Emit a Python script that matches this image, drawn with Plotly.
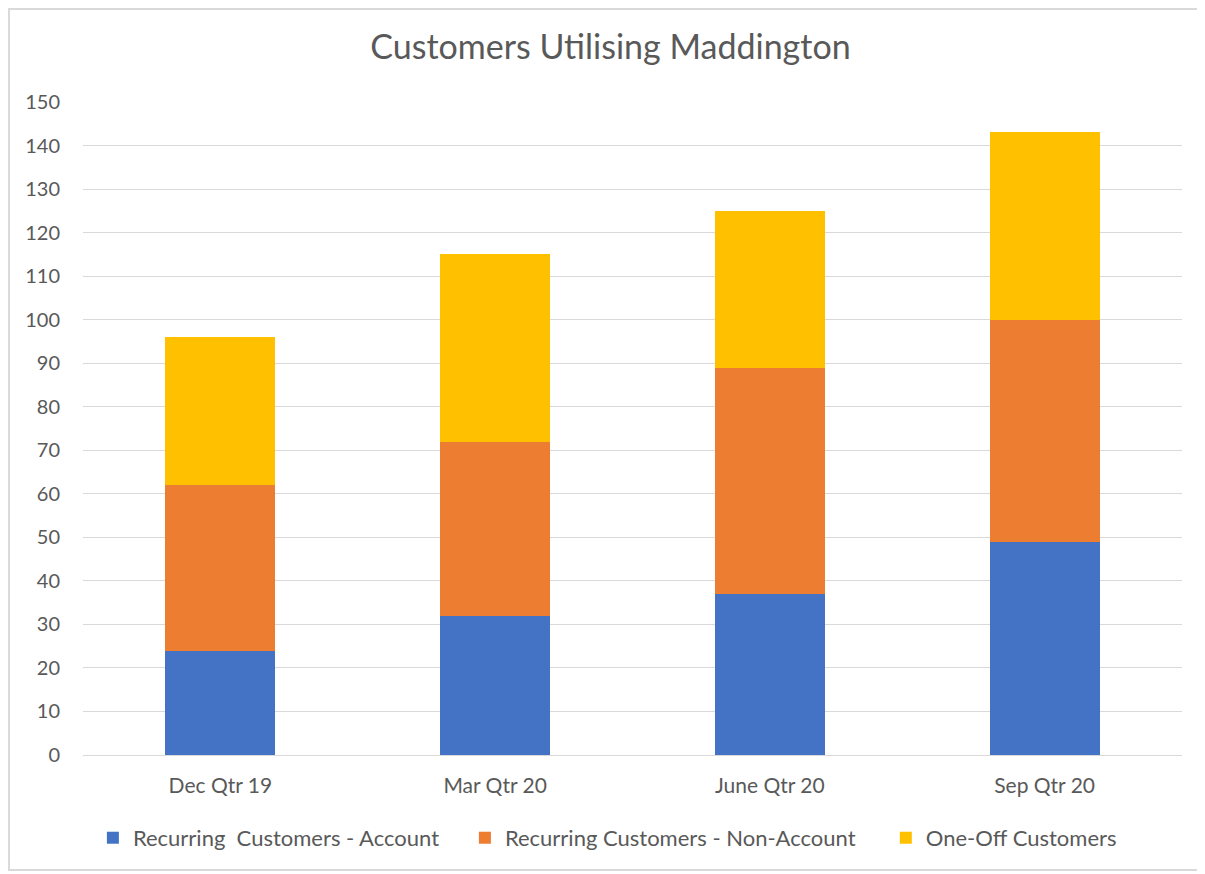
import plotly.graph_objects as go

categories = ["Dec Qtr 19", "Mar Qtr 20", "June Qtr 20", "Sep Qtr 20"]
recurring_account = [24, 32, 37, 49]
recurring_non_account = [38, 40, 52, 51]
one_off = [34, 43, 36, 43]
series_names = ["Recurring  Customers - Account", "Recurring Customers - Non-Account", "One-Off Customers"]
colors = ["#4472C4", "#ED7D31", "#FFC000"]
tick_vals = list(range(0, 151, 10))

legend_ids = ["legend", "legend2", "legend3"]
legend_x = [0.009, 0.3475, 0.7305]

fig = go.Figure()
for name, vals, c, lg in zip(series_names, [recurring_account, recurring_non_account, one_off], colors, legend_ids):
    fig.add_trace(go.Bar(x=categories, y=vals, name=name, legend=lg, showlegend=True,
                         marker=dict(color=c, line=dict(width=0))))

font = "Lato, 'Open Sans', sans-serif"
legend_common = dict(orientation="h", xanchor="left", y=-0.127, yanchor="middle",
                     font=dict(size=22, color="#595959"), itemwidth=30, bgcolor="rgba(0,0,0,0)")
fig.update_layout(
    barmode="stack",
    bargap=0.6,
    showlegend=True,
    width=1205, height=874,
    paper_bgcolor="white", plot_bgcolor="white",
    margin=dict(l=75, r=31, t=94, b=127, autoexpand=False),
    font=dict(family=font, color="#595959", size=20),
    title=dict(text="Customers Utilising Maddington", x=0.5, xanchor="center", y=0.9554, yanchor="middle",
               font=dict(size=34, color="#595959", family=font)),
    xaxis=dict(showgrid=False, showline=False, ticks="", tickfont=dict(size=21), ticklabelstandoff=16),
    yaxis=dict(range=[0, 150], tickvals=tick_vals, showgrid=True, gridcolor="#D9D9D9", gridwidth=1,
               zeroline=True, zerolinecolor="#D9D9D9", zerolinewidth=1, tickfont=dict(size=20),
               ticklabelstandoff=22),
    legend=dict(x=legend_x[0], **legend_common),
    legend2=dict(x=legend_x[1], **legend_common),
    legend3=dict(x=legend_x[2], **legend_common),
    shapes=[dict(type="rect", xref="paper", yref="paper", x0=-0.0673, x1=1.0164, y0=-0.176, y1=1.1424,
                 line=dict(color="#D9D9D9", width=2), fillcolor="rgba(0,0,0,0)", layer="below")],
)
fig.write_html("out.html")
